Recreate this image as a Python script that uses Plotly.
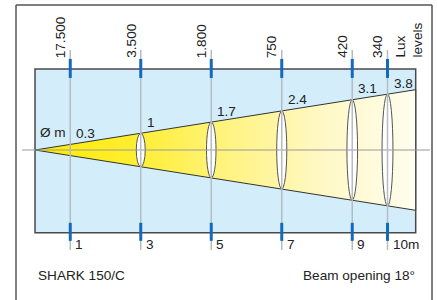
import math
import plotly.graph_objects as go

# ---- data ----
distances = [1, 3, 5, 7, 9, 10]                      # m
diameter_labels = ["0.3", "1", "1.7", "2.4", "3.1", "3.8"]
lux_labels = ["17.500", "3.500", "1.800", "750", "420", "340"]
distance_labels = ["1", "3", "5", "7", "9", "10m"]
beam_angle = 18                                       # degrees
model = "SHARK 150/C"

# ---- geometry (in metres) ----
PX = 35.25                     # px per metre (used only to define ranges)
x_end = 10.8                   # end of diagram
t = math.tan(math.radians(beam_angle / 2))
rect_top, rect_bot = 2.30, -2.35

fig = go.Figure()

# background panel
fig.add_shape(type="rect", xref="x", yref="y", x0=0, x1=x_end, y0=rect_bot, y1=rect_top,
              fillcolor="#D3EEFA", line=dict(color="#4a4a4a", width=1.5), layer="below")

# beam cone
fig.add_trace(go.Scatter(
    x=[0, x_end, x_end, 0], y=[0, x_end * t, -x_end * t, 0],
    mode="lines", fill="toself",
    line=dict(color="#333333", width=1),
    fillgradient=dict(type="horizontal", start=0, stop=x_end,
                      colorscale=[[0, "#FFEC00"], [0.25, "#FFEE2E"], [0.5, "#FFF37F"],
                                  [0.75, "#FFF8C4"], [1, "#FFFDEE"]]),
    hoverinfo="skip", showlegend=False))

shapes = []
# ellipses (beam sections)
for d in distances:
    r = d * t
    w = 0.23 + 0.008 * d
    shapes.append(dict(type="circle", xref="x", yref="y", x0=d - w / 2, x1=d + w / 2,
                       y0=-r, y1=r, fillcolor="white",
                       line=dict(color="#555555", width=1), layer="above"))

# central axis
shapes.append(dict(type="line", xref="x", yref="y", x0=-13 / PX, x1=395 / PX, y0=0, y1=0,
                   line=dict(color="#9a9a9a", width=1), layer="above"))

# vertical guide lines + blue ticks
y_line_top, y_line_bot = 100 / PX, -100 / PX
for d in distances:
    shapes.append(dict(type="line", xref="x", yref="y", x0=d, x1=d, y0=y_line_bot, y1=y_line_top,
                       line=dict(color="#B4BCC0", width=1.5), layer="above"))
    shapes.append(dict(type="line", xref="x", yref="y", x0=d, x1=d,
                       y0=rect_top - 9 / PX, y1=rect_top + 10 / PX,
                       line=dict(color="#1468BE", width=3), layer="above"))
    shapes.append(dict(type="line", xref="x", yref="y", x0=d, x1=d,
                       y0=rect_bot - 8 / PX, y1=rect_bot + 10 / PX,
                       line=dict(color="#1468BE", width=3), layer="above"))

# outer frame
for xp in (16, 432):
    shapes.append(dict(type="line", xref="paper", yref="paper", x0=xp / 437, x1=xp / 437,
                       y0=-0.05, y1=1 - 5 / 300, line=dict(color="#555555", width=1.5)))
shapes.append(dict(type="line", xref="paper", yref="paper", x0=16 / 437, x1=432 / 437,
                   y0=1 - 5 / 300, y1=1 - 5 / 300, line=dict(color="#555555", width=1.5)))

fig.update_layout(shapes=shapes)

FONT = dict(family="Liberation Sans, Arial, sans-serif", size=13.6, color="#222222")
ann = []
# lux labels (rotated)
for d, lx in zip(distances, lux_labels):
    ann.append(dict(x=d, y=90 / PX, xref="x", yref="y", text=lx, textangle=-90,
                    showarrow=False, xanchor="center", yanchor="bottom", xshift=-10,
                    font=FONT))
ann.append(dict(x=distances[-1], y=90 / PX, xref="x", yref="y", text="Lux<br>levels",
                textangle=-90, showarrow=False, xanchor="left", yanchor="bottom",
                xshift=3, align="left", font=FONT))
# diameter labels
for d, lbl in zip(distances, diameter_labels):
    ann.append(dict(x=d, y=d * t, xref="x", yref="y", text=lbl, showarrow=False,
                    xanchor="left", yanchor="middle", xshift=4, yshift=11, font=FONT))
ann.append(dict(x=0, y=distances[0] * t, xref="x", yref="y", text="Ø m", showarrow=False,
                xanchor="left", yanchor="middle", xshift=3, yshift=12, font=FONT))
# distance labels
for d, lbl in zip(distances, distance_labels):
    ann.append(dict(x=d, y=rect_bot, xref="x", yref="y", text=lbl, showarrow=False,
                    xanchor="left", yanchor="middle", xshift=3, yshift=-12, font=FONT))
# footer
ann.append(dict(x=0, y=-125.7 / PX, xref="x", yref="y", text=model, showarrow=False,
                xanchor="left", yanchor="middle", xshift=1, font=FONT))
ann.append(dict(x=x_end, y=-125.7 / PX, xref="x", yref="y",
                text=f"Beam opening {beam_angle}°", showarrow=False,
                xanchor="right", yanchor="middle", xshift=1, font=FONT))
fig.update_layout(annotations=ann)

fig.update_layout(
    width=437, height=300, margin=dict(l=0, r=0, t=0, b=0),
    paper_bgcolor="white", plot_bgcolor="white", showlegend=False,
    xaxis=dict(range=[-35 / PX, (437 - 35) / PX], visible=False, fixedrange=True),
    yaxis=dict(range=[-150 / PX, 150 / PX], visible=False, fixedrange=True),
)
fig.write_html("out.html", config={"displayModeBar": False},
               post_script="document.body.style.margin='0';document.body.style.overflow='hidden';")
